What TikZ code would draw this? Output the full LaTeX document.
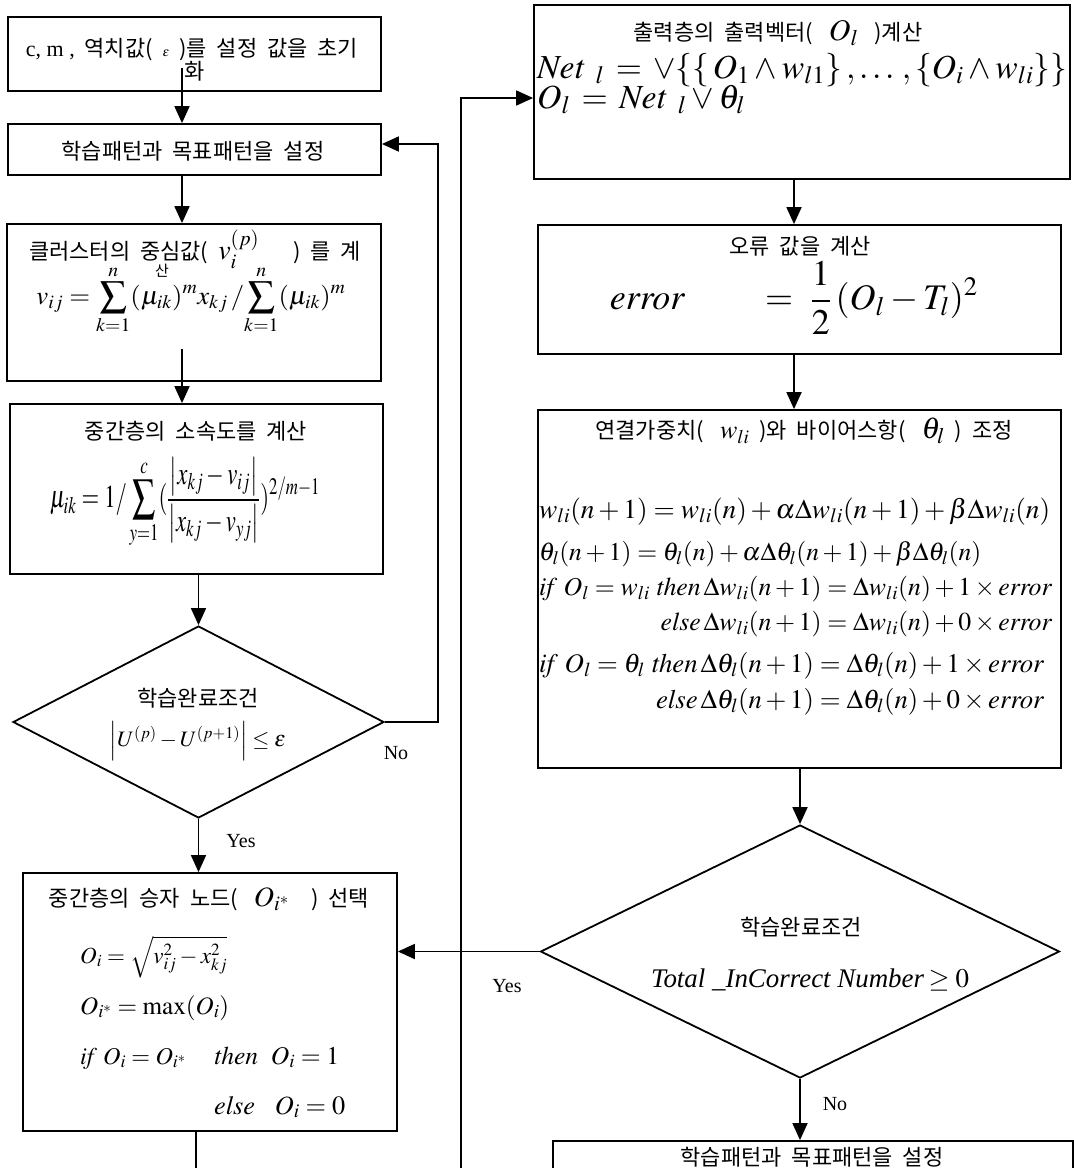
\RequirePackage{fix-cm}
\documentclass[tikz,border=0pt]{standalone}
\usepackage{amsmath}
\usepackage{mathptmx}
\usepackage{graphicx}
\usepackage{fontspec}
\setmainfont{Liberation Serif}
\newfontfamily\kr[WordSpace=2]{Noto Sans CJK KR}
\usetikzlibrary{arrows.meta,shapes.geometric}
\newcommand\fitw[2]{\resizebox{#1pt}{!}{#2}}
\newcommand\fitwh[3]{\resizebox*{#1pt}{#2pt}{#3}}
\newcommand\tm[2]{{\fontsize{#1}{#1}\selectfont$#2$}}
\newcommand\ifwpre{\mathit{if}\ O_l = w_{li}\ \mathit{then}\,}
\newcommand\iftpre{\mathit{if}\ O_l = \theta_l\ \mathit{then}\,}
\tikzset{
  box/.style={draw, line width=1.8pt, inner sep=0pt},
  dia/.style={draw, diamond, line width=1.8pt, inner sep=0pt},
  conn/.style={line width=1.8pt},
  arr/.style={conn, -{Triangle[length=17pt,width=15pt]}},
  kt/.style={font=\kr\fontsize{22}{26}\selectfont, inner sep=0pt},
  mt/.style={font=\fontsize{24}{28}\selectfont, inner sep=0pt},
  lbl/.style={font=\fontsize{20}{24}\selectfont, inner sep=0pt},
}
\begin{document}
\begin{tikzpicture}[x=1pt,y=-1pt]
\useasboundingbox (0,0) rectangle (1074,1168);
\clip (0,0) rectangle (1074,1168);
\fill[white] (0,0) rectangle (1074,1168);

% ---------- left column boxes ----------
\node[box, minimum width=373pt, minimum height=74pt] (B1) at (194.5,54) {};
\node[box, minimum width=373pt, minimum height=51pt] (B2) at (194.5,149.5) {};
\node[box, minimum width=374pt, minimum height=157pt] (B3) at (194,302.5) {};
\node[box, minimum width=373pt, minimum height=170pt] (B4) at (196.5,489) {};
\node[dia, minimum width=371pt, minimum height=192pt] (D1) at (198.5,722) {};
\node[box, minimum width=374pt, minimum height=258pt] (B5) at (210,1002) {};

% ---------- right column boxes ----------
\node[box, minimum width=536pt, minimum height=174pt] (B6) at (802,92) {};
\node[box, minimum width=523pt, minimum height=129pt] (B7) at (799.5,289.5) {};
\node[box, minimum width=523pt, minimum height=358pt] (B8) at (799.5,589) {};
\node[dia, minimum width=519pt, minimum height=253pt] (D2) at (800,951.5) {};
\node[box, minimum width=520pt, minimum height=44pt] (B9) at (813,1163) {};

% ---------- texts: left ----------
\node[kt] (t1a) at (192,50) {{\rmfamily c, m ,} 역치값( {\fontsize{13}{13}\selectfont$\varepsilon$} )를 설정 값을 초기};
\node[kt] (t1b) at (195,71) {화};
\node[kt] (t2) at (193,151) {학습패턴과 목표패턴을 설정};

\node[kt] (t3) at (195,249) {클러스터의 중심값( \tm{28}{v_i^{(p)}}\hspace{34pt}) 를 계};
\node[mt] (f3) at (191,300) {\fitwh{309}{68}{$\displaystyle v_{ij} = \sum_{k=1}^{n}(\mu_{ik})^{m} x_{kj} \,/\! \sum_{k=1}^{n}(\mu_{ik})^{m}$}};
\node[kt, font=\kr\fontsize{15}{15}\selectfont] (t3b) at (162,271) {산};

\node[kt] (t4) at (196,431) {중간층의 소속도를 계산};
\node[mt] (f4) at (185,503) {\fitwh{270}{92}{$\displaystyle \mu_{ik} = 1/\sum_{y=1}^{c}(\frac{\left|x_{kj}-v_{ij}\right|}{\left|x_{kj}-v_{yj}\right|})^{2/m-1}$}};

\node[kt] (t5) at (198,698) {학습완료조건};
\node[mt] (f5) at (198,741) {\fitw{176}{$\left|U^{(p)}-U^{(p+1)}\right|\le\varepsilon$}};

\node[kt] (t6) at (209,899) {중간층의 승자 노드( \;\tm{28}{O_{i^{*}}}\hspace{22pt}) 선택};
\node[mt, anchor=base west] (f6a) at (80,963) {\fitw{147}{$O_i = \sqrt{v_{ij}^2 - x_{kj}^2}$}};
\node[mt, anchor=base west] (f6b) at (80,1014) {\fitw{149}{$O_{i^{*}} = \max(O_i)$}};
\node[mt, anchor=base west] (f6c) at (80,1064) {\fitw{106}{$\mathit{if}\ O_i = O_{i^{*}}$}};
\node[mt, anchor=base west] (f6d) at (214,1064) {\fitw{125}{$\mathit{then}\ \ O_i = 1$}};
\node[mt, anchor=base west] (f6e) at (214,1114) {\fitw{131}{$\mathit{else}\ \ \ O_i = 0$}};

% ---------- texts: right ----------
\node[kt] (t7) at (778,33) {출력층의 출력벡터( \;\tm{30}{O_l}\hspace{16pt})계산};
\node[mt, anchor=base west] (f7a) at (537,78) {\fitw{530}{$\mathit{Net}\;\,{}_{l} \,=\, \vee\{\{\,O_1\wedge w_{l1}\}\,,\ldots\,,\{O_i\wedge w_{li}\}\}$}};
\node[mt, anchor=base west] (f7b) at (537,108) {\fitw{208}{$O_l \,=\, \mathit{Net}\;\,{}_{l}\vee\theta_l$}};

\node[kt] (t8) at (800,246) {오류 값을 계산};
\node[mt] (f8) at (794,298) {\fitw{368}{$\displaystyle \mathit{error}\qquad = \ \frac{1}{2}\,(O_l - T_l)^2$}};

\node[kt] (t9) at (804,431) {연결가중치( \;\tm{26}{w_{li}} )와 바이어스항( \;\tm{30}{\theta_l} ) 조정};
\node[mt, anchor=base west] (f9a) at (539,518) {\fitw{511}{$w_{li}(n+1) = w_{li}(n) + \alpha\Delta w_{li}(n+1) + \beta\Delta w_{li}(n)$}};
\node[mt, anchor=base west] (f9b) at (539,560) {\fitw{442}{$\theta_l(n+1) = \theta_l(n) + \alpha\Delta\theta_l(n+1) + \beta\Delta\theta_l(n)$}};
\node[mt, anchor=base west] (f9c) at (539,595) {\fitw{513}{$\ifwpre\Delta w_{li}(n+1) = \Delta w_{li}(n) + 1\times \mathit{error}$}};
\node[mt, anchor=base west] (f9d) at (539,630) {\fitw{513}{$\hphantom{\ifwpre}\llap{$\mathit{else}\,$}\Delta w_{li}(n+1) = \Delta w_{li}(n) + 0\times \mathit{error}$}};
\node[mt, anchor=base west] (f9e) at (539,672) {\fitw{505}{$\iftpre\Delta\theta_l(n+1) = \Delta\theta_l(n) + 1\times \mathit{error}$}};
\node[mt, anchor=base west] (f9f) at (539,708) {\fitw{505}{$\hphantom{\iftpre}\llap{$\mathit{else}\,$}\Delta\theta_l(n+1) = \Delta\theta_l(n) + 0\times \mathit{error}$}};

\node[kt] (t10) at (801,927) {학습완료조건};
\node[mt] (f10) at (810,980) {\fitw{318}{\textit{Total \_InCorrect Number}\,$\ge 0$}};

\node[kt] (t11) at (812,1157) {학습패턴과 목표패턴을 설정};

% ---------- labels ----------
\node[lbl] (no1) at (396,753) {No};
\node[lbl] (yes1) at (241,841) {Yes};
\node[lbl] (yes2) at (507,986) {Yes};
\node[lbl] (no2) at (835,1104) {No};

% ---------- connectors ----------
\coordinate (a1) at ([xshift=-12.5pt,yshift=24pt]B1.south);
\draw[arr] (a1) -- (a1 |- B2.north);
\coordinate (a2) at ([xshift=-12.5pt]B2.south);
\draw[arr] (a2) -- (a2 |- B3.north);
\coordinate (a3) at ([xshift=-12pt,yshift=33pt]B3.south);
\draw[arr] (a3) -- (a3 |- B4.north);
\draw[arr] (B4.south -| D1.north) -- (D1.north);
\draw[arr] (D1.south) -- (D1.south |- B5.north);
\coordinate (fbk) at (438,144);
\draw[arr] (D1.east) -| (fbk) -- (fbk -| B2.east);
\coordinate (endL) at (196,1180);
\draw[conn] (B5.south -| endL) -- (endL);
\coordinate (endR) at (461,1180);
\draw[arr] (endR) |- ([yshift=-6pt]B6.west);

\coordinate (a6) at ([xshift=-8pt]B6.south);
\draw[arr] (a6) -- (a6 |- B7.north);
\coordinate (a7) at ([xshift=-5.5pt]B7.south);
\draw[arr] (a7) -- (a7 |- B8.north);
\draw[arr] (B8.south -| D2.north) -- (D2.north);
\draw[arr] (D2.west) -- (D2.west -| B5.east);
\draw[arr] (D2.south) -- (D2.south |- B9.north);
\end{tikzpicture}
\end{document}
